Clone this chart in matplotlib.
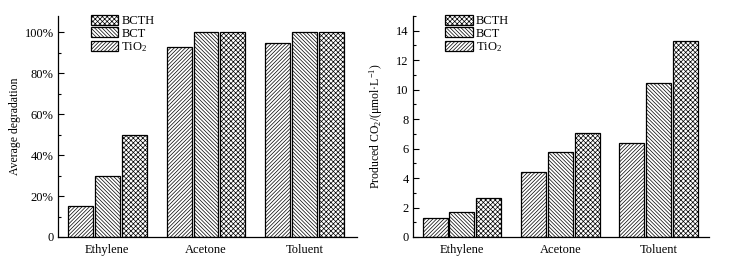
import matplotlib
matplotlib.use("Agg")
import matplotlib.pyplot as plt
import numpy as np
from matplotlib.ticker import MultipleLocator, FuncFormatter

plt.rcParams['font.family'] = ['Liberation Serif', 'DejaVu Serif']
plt.rcParams['mathtext.fontset'] = 'custom'
plt.rcParams['mathtext.rm'] = 'Liberation Serif'
plt.rcParams['mathtext.it'] = 'Liberation Serif:italic'
plt.rcParams['hatch.linewidth'] = 0.5
plt.rcParams['hatch.color'] = '#444444'

categories = ["Ethylene", "Acetone", "Toluent"]
series_names = ["TiO$_2$", "BCT", "BCTH"]
degradation = {
    "TiO2": [15, 93, 95],
    "BCT": [30, 100, 100],
    "BCTH": [50, 100, 100],
}
co2 = {
    "TiO2": [1.31, 4.42, 6.41],
    "BCT": [1.68, 5.75, 10.45],
    "BCTH": [2.63, 7.09, 13.32],
}
keys = ["TiO2", "BCT", "BCTH"]
hatches = ["/" * 9, "\\" * 9, "x" * 7]

fig = plt.figure(figsize=(7.32, 2.64), dpi=100)
ax1 = fig.add_axes([0.0792, 0.1023, 0.4085, 0.8371])
ax2 = fig.add_axes([0.5638, 0.1023, 0.4048, 0.8371])

x = np.arange(len(categories))
width = 0.253
step = 0.273

def draw(ax, data, ylim, major, minor, fmt, ylabel, xr, ylx):
    handles = []
    for i, k in enumerate(keys):
        b = ax.bar(x + (i - 1) * step, data[k], width, facecolor='white',
                   edgecolor='black', hatch=hatches[i], linewidth=0.9,
                   label=series_names[i])
        handles.append(b)
    ax.set_xlim(-0.5, xr)
    ax.set_ylim(0, ylim)
    ax.set_xticks(x)
    ax.set_xticklabels(categories, fontsize=9)
    ax.tick_params(axis='x', length=0, pad=5)
    ax.yaxis.set_major_locator(MultipleLocator(major))
    ax.yaxis.set_minor_locator(MultipleLocator(minor))
    ax.yaxis.set_major_formatter(FuncFormatter(fmt))
    ax.tick_params(axis='y', direction='in', which='major', length=4, labelsize=9, width=0.8, pad=3)
    ax.tick_params(axis='y', direction='in', which='minor', length=2, width=0.8)
    for s in ['top', 'right']:
        ax.spines[s].set_visible(False)
    for s in ['left', 'bottom']:
        ax.spines[s].set_linewidth(0.9)
    ax.set_ylabel(ylabel, fontsize=8.5)
    ax.yaxis.set_label_coords(ylx, 0.5)
    leg = ax.legend(handles[::-1], series_names[::-1], loc='upper left',
                    bbox_to_anchor=(0.11, 1.005), frameon=False, fontsize=9,
                    handlelength=2.2, handleheight=0.85, labelspacing=0.02,
                    handletextpad=0.25, borderaxespad=0, borderpad=0)
    return leg

draw(ax1, degradation, 108, 20, 10,
     lambda v, p: "0" if v == 0 else f"{int(round(v))}%",
     "Average degradation", 2.53, -0.125)
draw(ax2, co2, 15, 2, 1,
     lambda v, p: f"{int(round(v))}",
     "Produced CO$_2$/(μmol·L$^{-1}$)", 2.51, -0.095)

fig.savefig("out.png", dpi=100)
